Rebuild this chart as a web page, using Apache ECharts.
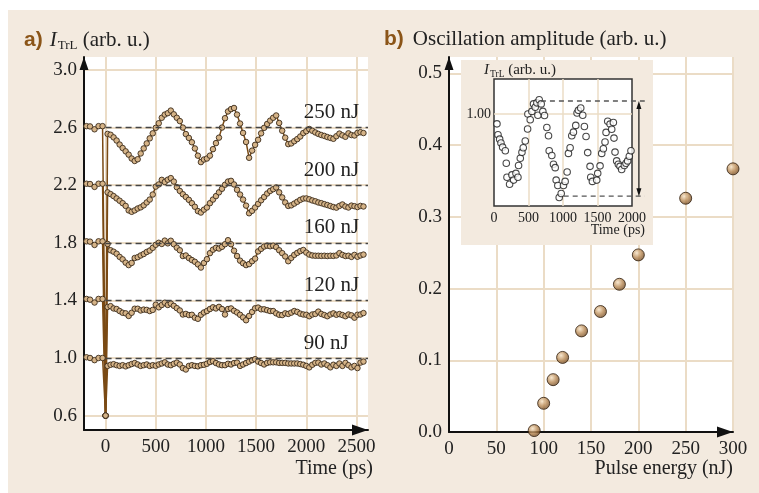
<!DOCTYPE html>
<html><head><meta charset="utf-8">
<script src="https://cdn.jsdelivr.net/npm/echarts@6/dist/echarts.min.js"></script>
<style>
html,body{margin:0;padding:0;background:#fff;}
#bg{position:absolute;left:8px;top:10px;width:751px;height:483px;background:#f3eadf;}
#c{position:absolute;left:0;top:0;width:759px;height:493px;}
</style>
</head><body><div id="bg"></div><div id="c"></div>
<script>
// ---------- Panel a data ----------
const timePs = [-190,-155,-110,-70,-30,0,
 20,50,80,110,140,170,200,230,260,290,320,350,380,410,440,470,500,530,560,590,620,650,680,710,
 740,770,800,830,860,890,920,950,980,1010,1040,1070,1100,1130,1160,1190,1220,1250,1280,1310,1340,1370,
 1400,1430,1460,1490,1520,1550,1580,1610,1640,1670,1700,1730,1760,1790,1820,1850,1880,1910,1940,1970,
 2000,2030,2060,2090,2120,2150,2180,2210,2240,2270,2300,2330,2360,2390,2420,2450,2480,2510,2540,2570];

const trace250 = [2.61,2.608,2.588,2.61,2.61,0.6,
 2.556,2.550,2.532,2.510,2.482,2.458,2.435,2.412,2.385,2.368,
 2.380,2.420,2.455,2.490,2.525,2.560,2.598,2.630,2.668,2.690,
 2.700,2.718,2.692,2.668,2.645,2.600,2.555,2.528,2.498,2.455,
 2.405,2.360,2.378,2.385,2.405,2.450,2.492,2.530,2.600,2.665,
 2.712,2.728,2.736,2.690,2.628,2.563,2.500,2.390,2.440,2.480,
 2.515,2.560,2.598,2.625,2.648,2.668,2.684,2.632,2.578,2.530,
 2.485,2.490,2.505,2.520,2.538,2.562,2.575,2.590,2.578,2.566,
 2.556,2.548,2.542,2.534,2.528,2.522,2.540,2.558,2.546,2.536,
 2.560,2.548,2.545,2.563,2.568,2.562];

const trace200 = [2.21,2.208,2.188,2.21,2.21,0.6,
 2.150,2.138,2.124,2.108,2.092,2.075,2.056,2.025,2.015,2.025,
 2.038,2.046,2.060,2.080,2.100,2.135,2.190,2.205,2.237,2.222,
 2.238,2.249,2.225,2.186,2.160,2.137,2.118,2.098,2.075,2.050,
 2.020,2.010,2.030,2.045,2.075,2.100,2.124,2.150,2.175,2.203,
 2.225,2.230,2.205,2.168,2.135,2.100,2.058,2.005,2.022,2.045,
 2.070,2.095,2.118,2.142,2.160,2.172,2.184,2.150,2.115,2.080,
 2.056,2.060,2.072,2.085,2.098,2.107,2.108,2.102,2.094,2.088,
 2.080,2.075,2.068,2.062,2.055,2.048,2.044,2.056,2.066,2.052,
 2.045,2.058,2.054,2.048,2.056,2.052];

const trace160 = [1.81,1.808,1.785,1.81,1.81,0.6,
 1.792,1.748,1.738,1.724,1.702,1.685,1.662,1.645,1.660,1.694,
 1.700,1.712,1.722,1.736,1.746,1.765,1.786,1.800,1.792,1.815,
 1.796,1.814,1.790,1.766,1.748,1.708,1.712,1.694,1.680,1.668,
 1.650,1.628,1.660,1.686,1.728,1.752,1.765,1.760,1.772,1.790,
 1.818,1.790,1.745,1.708,1.676,1.658,1.645,1.652,1.672,1.690,
 1.740,1.758,1.774,1.780,1.776,1.780,1.770,1.748,1.728,1.705,
 1.672,1.695,1.716,1.730,1.742,1.750,1.732,1.718,1.712,1.710,
 1.710,1.709,1.710,1.708,1.710,1.709,1.712,1.728,1.716,1.708,
 1.710,1.702,1.716,1.703,1.712,1.718];

const trace120 = [1.41,1.405,1.385,1.41,1.41,0.6,
 1.354,1.360,1.344,1.340,1.326,1.314,1.310,1.292,1.314,1.342,
 1.342,1.330,1.336,1.334,1.326,1.334,1.370,1.352,1.368,1.384,
 1.368,1.378,1.362,1.346,1.330,1.302,1.306,1.298,1.300,1.280,
 1.272,1.300,1.316,1.326,1.340,1.352,1.344,1.355,1.340,1.302,
 1.340,1.344,1.328,1.316,1.300,1.282,1.262,1.292,1.320,1.345,
 1.350,1.338,1.338,1.332,1.326,1.326,1.310,1.300,1.298,1.310,
 1.306,1.315,1.326,1.320,1.308,1.302,1.300,1.290,1.302,1.306,
 1.322,1.306,1.298,1.290,1.302,1.310,1.300,1.305,1.298,1.290,
 1.302,1.296,1.280,1.300,1.302,1.312];

const trace90 = [1.005,1.0,0.985,1.0,1.0,0.6,
 0.945,0.953,0.957,0.950,0.945,0.950,0.942,0.950,0.958,0.965,
 0.955,0.945,0.950,0.955,0.945,0.950,0.946,0.955,0.962,0.970,
 0.955,0.950,0.960,0.968,0.955,0.930,0.920,0.945,0.950,0.945,
 0.942,0.950,0.953,0.960,0.972,0.978,0.965,0.955,0.950,0.950,
 0.960,0.955,0.965,0.968,0.945,0.955,0.965,0.975,0.985,0.992,
 0.975,0.965,0.955,0.966,0.970,0.970,0.970,0.966,0.966,0.966,
 0.962,0.962,0.962,0.962,0.958,0.953,0.945,0.935,0.953,0.966,
 0.968,0.955,0.962,0.950,0.935,0.953,0.945,0.962,0.945,0.966,
 0.950,0.935,0.945,0.930,0.968,0.975];

const traceLabels = ['250 nJ','200 nJ','160 nJ','120 nJ','90 nJ'];
const traceBaselines = [2.6, 2.2, 1.8, 1.4, 1.0];
const leftYTicks = [0.6, 1.0, 1.4, 1.8, 2.2, 2.6, 3.0];
const leftXTicks = [0, 500, 1000, 1500, 2000, 2500];

// ---------- Panel b data ----------
const pulseEnergy = [90, 100, 110, 120, 140, 160, 180, 200, 250, 300];
const oscAmplitude = [0.002, 0.040, 0.073, 0.104, 0.141, 0.168, 0.206, 0.247, 0.326, 0.367];
const rightYTicks = [0, 0.1, 0.2, 0.3, 0.4, 0.5];

// ---------- Inset data ----------
const insetTime = [43,58,82,101,125,164,178,188,226,260,284,318,347,356,381,405,424,453,487,491,
 525,549,573,597,621,636,655,684,708,732,766,790,800,838,862,887,901,925,945,974,
 1007,1031,1060,1079,1103,1127,1151,1185,1204,1223,1257,1286,1310,1334,1358,1392,1402,1426,1489,1503,
 1537,1561,1585,1609,1624,1648,1682,1706,1730,1739,1754,1778,1802,1826,1850,1889,1913,1937,1961,1985];
const insetValue = [0.962,0.920,0.903,0.888,0.872,0.858,0.810,0.756,0.729,0.765,0.745,0.771,0.756,0.801,0.829,0.852,0.870,0.896,0.942,1.000,
 0.978,1.010,1.039,1.026,1.043,0.995,1.055,1.039,1.010,0.994,0.948,0.916,0.858,0.840,0.806,0.793,0.745,0.724,0.678,0.693,
 0.724,0.740,0.776,0.848,0.870,0.916,0.930,0.956,1.004,1.014,1.023,0.995,0.952,0.913,0.851,0.798,0.756,0.740,0.745,0.771,
 0.800,0.848,0.866,0.892,0.929,0.972,0.961,0.941,0.967,0.907,0.853,0.819,0.806,0.798,0.786,0.801,0.810,0.819,0.837,0.858];
const insetUpper = 1.050, insetLower = 0.683;
const insetXTicks = [0, 500, 1000, 1500, 2000];
const insetGridX = [500, 1000, 1500];

// ---------- styling ----------
const SERIF = '"Liberation Serif", "Times New Roman", serif';
const GRIDC = '#ebdcc6';
const TXT = '#222';
const plain = v => String(v);

const chart = echarts.init(document.getElementById('c'), null, {renderer: 'canvas'});

function axisLineArrow(len, wid) {
  return {show: true, onZero: false, symbol: ['none', 'triangle'], symbolSize: [wid, len],
          symbolOffset: [0, -len / 2], lineStyle: {color: '#111', width: 2}};
}

const traces = [trace250, trace200, trace160, trace120, trace90];
const series = traces.map((vals, i) => ({
  type: 'line', name: traceLabels[i], xAxisIndex: 0, yAxisIndex: 0,
  data: timePs.map((t, j) => [t, vals[j]]),
  symbol: 'circle', symbolSize: 5.5, showAllSymbol: true,
  lineStyle: {color: '#7a4a14', width: 1.5},
  itemStyle: {color: '#d5b387', borderColor: '#3a2a1a', borderWidth: 0.9},
  markLine: {silent: true, symbol: 'none', label: {show: false},
    lineStyle: {color: '#444', type: [6, 4], width: 1.3},
    data: [[{coord: [0, traceBaselines[i]]}, {coord: [2615, traceBaselines[i]]}]]},
  z: 3, animation: false
}));

series.push({
  type: 'scatter', xAxisIndex: 1, yAxisIndex: 1,
  data: pulseEnergy.map((e, i) => [e, oscAmplitude[i]]),
  symbolSize: 12,
  itemStyle: {color: {type: 'radial', x: 0.38, y: 0.35, r: 0.7, colorStops: [
    {offset: 0, color: '#f6e2c4'}, {offset: 0.5, color: '#b98a55'}, {offset: 1, color: '#6a4420'}]},
    borderColor: '#2e1d0d', borderWidth: 1},
  z: 3, animation: false
});

series.push({
  type: 'scatter', xAxisIndex: 2, yAxisIndex: 2,
  data: insetTime.map((t, i) => [t, insetValue[i]]),
  symbolSize: 6.5,
  itemStyle: {color: '#fff', borderColor: '#1a1a1a', borderWidth: 1.1},
  z: 30, animation: false
});

const option = {
  animation: false,
  title: [
    {left: 24, top: 29, padding: 0,
     text: '{a|a)}{i|I}{s|TrL}{n| (arb. u.)}',
     textStyle: {fontWeight: 'normal', rich: {
       a: {fontFamily: '"Liberation Sans", Arial, sans-serif', fontWeight: 'bold', fontSize: 21, color: '#8b5518', padding: [0, 7, 0, 0]},
       i: {fontFamily: SERIF, fontStyle: 'italic', fontWeight: 'normal', fontSize: 21, color: TXT},
       s: {fontFamily: SERIF, fontWeight: 'normal', fontSize: 13, color: TXT, padding: [10, 0, 0, 1]},
       n: {fontFamily: SERIF, fontWeight: 'normal', fontSize: 21, color: TXT}}}},
    {left: 384, top: 29, padding: 0,
     text: '{a|b)}{n|Oscillation amplitude (arb. u.)}',
     textStyle: {fontWeight: 'normal', rich: {
       a: {fontFamily: '"Liberation Sans", Arial, sans-serif', fontWeight: 'bold', fontSize: 21, color: '#8b5518', padding: [0, 9, 0, 0]},
       n: {fontFamily: SERIF, fontWeight: 'normal', fontSize: 21, color: TXT}}}},
    {right: 386, top: 459, padding: 0, text: 'Time (ps)',
     textStyle: {fontFamily: SERIF, fontSize: 20, fontWeight: 'normal', color: TXT}},
    {right: 26, top: 459, padding: 0, text: 'Pulse energy (nJ)',
     textStyle: {fontFamily: SERIF, fontSize: 20, fontWeight: 'normal', color: TXT}},
    {left: 484, top: 62, padding: 0, z: 40,
     text: '{i|I}{s|TrL}{n| (arb. u.)}',
     textStyle: {fontWeight: 'normal', rich: {
       i: {fontFamily: SERIF, fontStyle: 'italic', fontWeight: 'normal', fontSize: 15, color: TXT},
       s: {fontFamily: SERIF, fontWeight: 'normal', fontSize: 9.5, color: TXT, padding: [7, 0, 0, 1]},
       n: {fontFamily: SERIF, fontWeight: 'normal', fontSize: 15, color: TXT}}}},
    {right: 114, top: 223, padding: 0, z: 40, text: 'Time (ps)',
     textStyle: {fontFamily: SERIF, fontSize: 14, fontWeight: 'normal', color: TXT}}
  ],
  grid: [
    {left: 84, top: 57, width: 284, height: 373, show: true, backgroundColor: '#fff', borderWidth: 0, containLabel: false},
    {left: 449, top: 57, width: 284, height: 375, show: true, backgroundColor: '#fff', borderWidth: 0, containLabel: false},
    {left: 494, top: 79, width: 138, height: 127, show: true, backgroundColor: '#fff', borderColor: '#333', borderWidth: 1.5, z: 20, containLabel: false}
  ],
  xAxis: [
    {gridIndex: 0, type: 'value', min: -215, max: 2615,
     axisLine: axisLineArrow(16, 11),
     axisTick: {show: false, customValues: leftXTicks},
     axisLabel: {customValues: leftXTicks, formatter: plain, fontFamily: SERIF, fontSize: 19, color: TXT, margin: 8},
     splitLine: {show: true, lineStyle: {color: GRIDC, width: 2}}},
    {gridIndex: 1, type: 'value', min: 0, max: 300, interval: 50,
     axisLine: axisLineArrow(16, 11),
     axisTick: {show: false},
     axisLabel: {formatter: plain, fontFamily: SERIF, fontSize: 19, color: TXT, margin: 8},
     splitLine: {show: true, lineStyle: {color: GRIDC, width: 2}}},
    {gridIndex: 2, type: 'value', min: 0, max: 2000, z: 21,
     axisLine: {show: false},
     axisTick: {show: false, customValues: insetGridX},
     axisLabel: {customValues: insetXTicks, formatter: plain, fontFamily: SERIF, fontSize: 14, color: TXT, margin: 5},
     splitLine: {show: true, lineStyle: {color: GRIDC, width: 1.5}}}
  ],
  yAxis: [
    {gridIndex: 0, type: 'value', min: 0.5, max: 3.09,
     axisLine: axisLineArrow(13, 9),
     axisTick: {show: false, customValues: leftYTicks},
     axisLabel: {customValues: leftYTicks, formatter: v => v.toFixed(1), fontFamily: SERIF, fontSize: 19, color: TXT, margin: 7},
     splitLine: {show: true, lineStyle: {color: GRIDC, width: 2}}},
    {gridIndex: 1, type: 'value', min: 0, max: 0.523,
     axisLine: axisLineArrow(13, 9),
     axisTick: {show: false, customValues: rightYTicks},
     axisLabel: {customValues: rightYTicks, formatter: v => v.toFixed(1), fontFamily: SERIF, fontSize: 19, color: TXT, margin: 7},
     splitLine: {show: true, lineStyle: {color: GRIDC, width: 2}}},
    {gridIndex: 2, type: 'value', min: 0.645, max: 1.135, z: 21,
     axisLine: {show: false},
     axisTick: {show: false, customValues: [1.0]},
     axisLabel: {customValues: [1.0], formatter: v => v.toFixed(2), fontFamily: SERIF, fontSize: 14, color: TXT, margin: 3},
     splitLine: {show: true, lineStyle: {color: GRIDC, width: 1.5}}}
  ],
  series: series
};
chart.setOption(option);

// ---------- annotations positioned through the axes ----------
const g = [];
g.push({type: 'rect', shape: {x: 461, y: 60, width: 192, height: 185}, style: {fill: '#f3eadf'}, z: 10, silent: true});
const labelTime = 1975, labelOffset = 0.103;
traceLabels.forEach((lab, i) => {
  const p = chart.convertToPixel({gridIndex: 0}, [labelTime, traceBaselines[i] + labelOffset]);
  g.push({type: 'text', x: p[0], y: p[1], z: 50,
    style: {text: lab, font: '21px ' + SERIF, fill: TXT, align: 'left', verticalAlign: 'middle'}});
});
const pu1 = chart.convertToPixel({gridIndex: 2}, [680, insetUpper]);
const pu2 = chart.convertToPixel({gridIndex: 2}, [2185, insetUpper]);
const pl1 = chart.convertToPixel({gridIndex: 2}, [1010, insetLower]);
const pl2 = chart.convertToPixel({gridIndex: 2}, [2185, insetLower]);
const dashStyle = {stroke: '#555', lineWidth: 1.4, lineDash: [5, 4]};
g.push({type: 'line', shape: {x1: pu1[0], y1: pu1[1], x2: pu2[0], y2: pu2[1]}, style: dashStyle, z: 40});
g.push({type: 'line', shape: {x1: pl1[0], y1: pl1[1], x2: pl2[0], y2: pl2[1]}, style: dashStyle, z: 40});
const pa1 = chart.convertToPixel({gridIndex: 2}, [2100, insetUpper]);
const pa2 = chart.convertToPixel({gridIndex: 2}, [2100, insetLower]);
const ax = pa1[0];
g.push({type: 'line', shape: {x1: ax, y1: pa1[1] + 3, x2: ax, y2: pa2[1] - 3}, style: {stroke: '#111', lineWidth: 1.2}, z: 40});
g.push({type: 'polygon', shape: {points: [[ax, pa1[1]], [ax - 2.5, pa1[1] + 8], [ax + 2.5, pa1[1] + 8]]}, style: {fill: '#111'}, z: 40});
g.push({type: 'polygon', shape: {points: [[ax, pa2[1]], [ax - 2.5, pa2[1] - 8], [ax + 2.5, pa2[1] - 8]]}, style: {fill: '#111'}, z: 40});
chart.setOption({graphic: {elements: g}});
</script>
</body></html>
